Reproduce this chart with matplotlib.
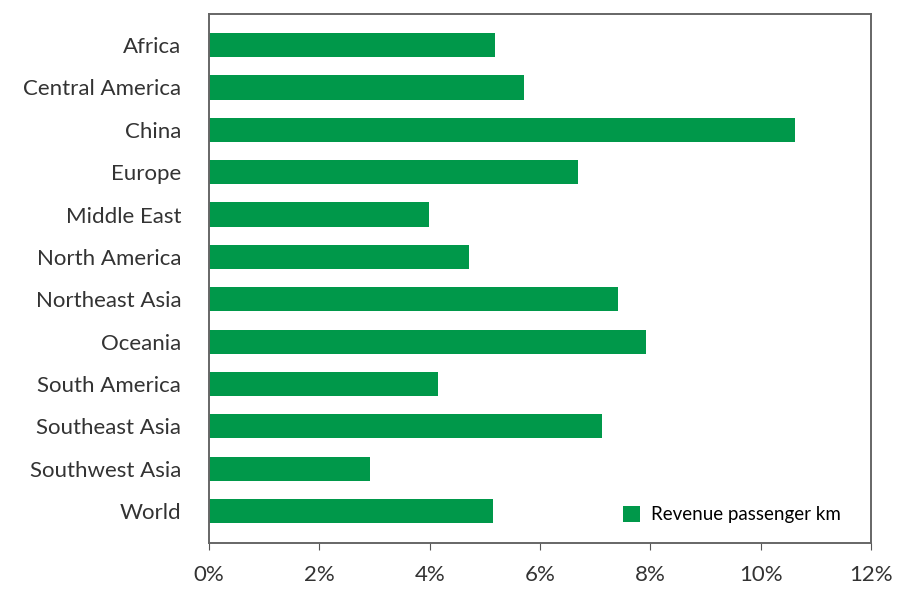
import matplotlib.pyplot as plt
from matplotlib.ticker import FuncFormatter

regions = ["Africa", "Central America", "China", "Europe", "Middle East",
           "North America", "Northeast Asia", "Oceania", "South America",
           "Southeast Asia", "Southwest Asia", "World"]
rpk_growth = [5.18, 5.71, 10.62, 6.68, 3.99, 4.71, 7.41, 7.93, 4.15, 7.12, 2.92, 5.14]
xticks = [0, 2, 4, 6, 8, 10, 12]

plt.rcParams['font.family'] = ['Lato', 'DejaVu Sans']

fig = plt.figure(figsize=(8.97, 5.9), dpi=100)
ax = fig.add_axes([0.233, 0.08, 0.738, 0.896])

ypos = list(range(len(regions)))
ax.barh(ypos, rpk_growth, height=0.57, color='#00984a',
        label='Revenue passenger km')

ax.set_ylim(11.75, -0.73)
ax.set_xlim(0, 12)
ax.set_yticks(ypos)
ax.set_yticklabels(regions, fontsize=16, color='#333333')
ax.tick_params(axis='y', length=0, pad=20)
ax.set_xticks(xticks)
ax.xaxis.set_major_formatter(FuncFormatter(lambda v, p: f"{v:.0f}%"))
ax.tick_params(axis='x', labelsize=16, labelcolor='#333333', length=5,
               color='#555555', pad=11)

for s in ax.spines.values():
    s.set_color('#666666')
    s.set_linewidth(1.4)

ax.legend(loc='lower right', frameon=False, fontsize=13.5, handlelength=0.9,
          handleheight=0.9, handletextpad=0.6, bbox_to_anchor=(0.98, 0.005))

fig.savefig('out.png', dpi=100)
